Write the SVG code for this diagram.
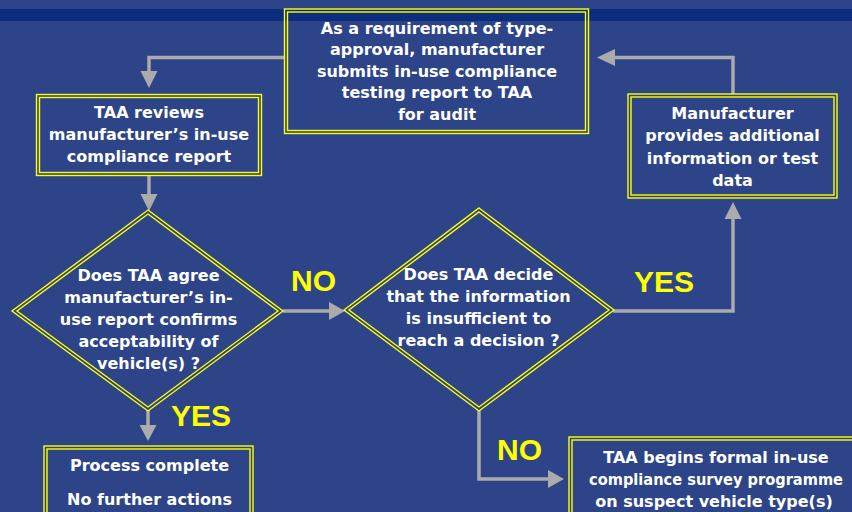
<svg xmlns="http://www.w3.org/2000/svg" width="852" height="512" viewBox="0 0 852 512">
<style>
.b{fill:none;stroke:#FFFF00;stroke-width:1.4}
.t{font-family:"DejaVu Sans","Liberation Sans",sans-serif;font-weight:bold;font-size:16px;fill:#FFFFFF;text-anchor:middle}
.l{font-family:"Liberation Sans",Arial,sans-serif;font-weight:bold;font-size:30px;fill:#FFFF00}
.c{fill:none;stroke:#ABABAB;stroke-width:3.5}
.h{fill:#ABABAB}
</style>
<rect width="852" height="512" fill="#2E4488"/>
<rect x="0" y="9" width="852" height="12" fill="#0A2D7D"/>
<g id="connectors">
<path class="c" d="M284,57.5 H149 V73"/>
<polygon class="h" points="140.5,71 157.5,71 149,88"/>
<path class="c" d="M149,175.5 V196"/>
<polygon class="h" points="140.5,194 157.5,194 149,211"/>
<path class="c" d="M283,311 H331"/>
<polygon class="h" points="329,302 329,320 345,311"/>
<path class="c" d="M613,311 H733 V218"/>
<polygon class="h" points="724.5,219 741.5,219 733,202"/>
<path class="c" d="M733,94 V57.5 H613"/>
<polygon class="h" points="615,49 615,66 597,57.5"/>
<path class="c" d="M148,410 V427"/>
<polygon class="h" points="139.5,425 156.5,425 148,441"/>
<path class="c" d="M479,410 V479 H550"/>
<polygon class="h" points="548,470 548,488 564,479"/>
<text class="l" x="291" y="291">NO</text>
<text class="l" x="634" y="292">YES</text>
<text class="l" x="171" y="426">YES</text>
<text class="l" x="497" y="460">NO</text>
</g>
<g id="submit">
<rect class="b" x="284.5" y="9" width="304" height="124.5"/>
<rect class="b" x="287.5" y="12" width="298" height="118.5"/>
<text class="t" x="437" y="33.5">As a requirement of type-</text>
<text class="t" x="437" y="55">approval, manufacturer</text>
<text class="t" x="437" y="76.5">submits in-use compliance</text>
<text class="t" x="437" y="98">testing report to TAA</text>
<text class="t" x="437" y="119.5">for audit</text>
</g>
<g id="review">
<rect class="b" x="36.5" y="94.5" width="225" height="81"/>
<rect class="b" x="39.5" y="97.5" width="219" height="75"/>
<text class="t" x="149" y="118">TAA reviews</text>
<text class="t" x="149" y="140">manufacturer’s in-use</text>
<text class="t" x="149" y="162">compliance report</text>
</g>
<g id="additional">
<rect class="b" x="628" y="94" width="209" height="104"/>
<rect class="b" x="631" y="97" width="203" height="98"/>
<text class="t" x="732.5" y="119">Manufacturer</text>
<text class="t" x="732.5" y="141">provides additional</text>
<text class="t" x="732.5" y="163.5">information or test</text>
<text class="t" x="732.5" y="186">data</text>
</g>
<g id="agree">
<polygon class="b" points="148,210 283,311 148,411 12,311"/>
<polygon class="b" points="148,214 278,311 148,407 17,311"/>
<text class="t" x="148.5" y="281">Does TAA agree</text>
<text class="t" x="148.5" y="303">manufacturer’s in-</text>
<text class="t" x="148.5" y="325">use report confirms</text>
<text class="t" x="148.5" y="347">acceptability of</text>
<text class="t" x="148.5" y="369">vehicle(s) ?</text>
</g>
<g id="insufficient">
<polygon class="b" points="479,208 614,310 479,411 344,310"/>
<polygon class="b" points="479,212 609,310 479,407 349,310"/>
<text class="t" x="478.5" y="280">Does TAA decide</text>
<text class="t" x="478.5" y="302">that the information</text>
<text class="t" x="478.5" y="324">is insufficient to</text>
<text class="t" x="478.5" y="346">reach a decision ?</text>
</g>
<g id="complete">
<rect class="b" x="44" y="446" width="209" height="90"/>
<rect class="b" x="47" y="449" width="203" height="84"/>
<text class="t" x="149.5" y="471">Process complete</text>
<text class="t" x="149.5" y="505">No further actions</text>
</g>
<g id="survey">
<rect class="b" x="569" y="437" width="300" height="100"/>
<rect class="b" x="572" y="440" width="294" height="94"/>
<text class="t" x="716" y="463">TAA begins formal in-use</text>
<text class="t" x="716" y="485" textLength="254" lengthAdjust="spacingAndGlyphs">compliance survey programme</text>
<text class="t" x="714" y="507">on suspect vehicle type(s)</text>
</g>
</svg>
